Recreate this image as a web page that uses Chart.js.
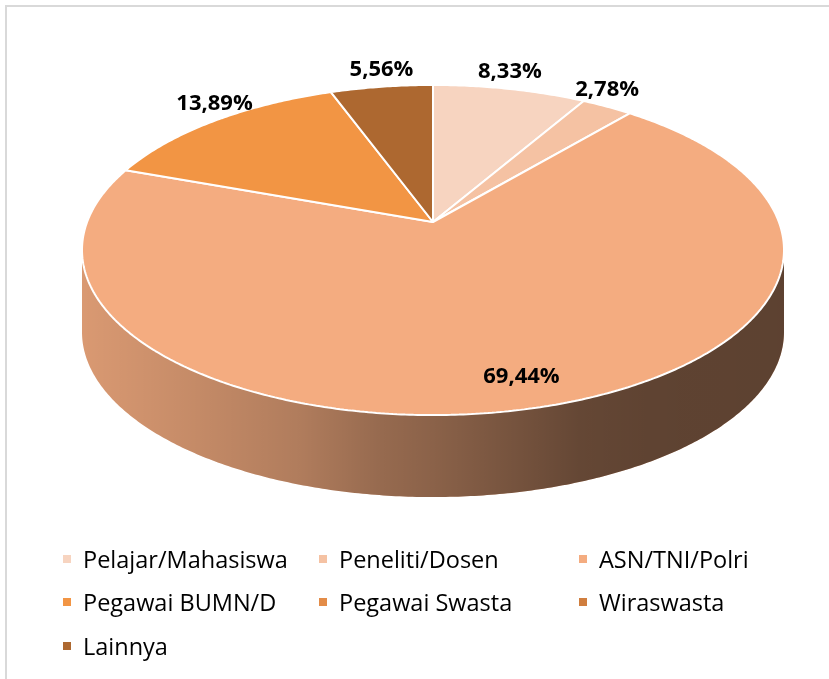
<!DOCTYPE html>
<html>
<head>
<meta charset="utf-8">
<script src="https://cdn.jsdelivr.net/npm/chart.js@4.4.0/dist/chart.umd.min.js"></script>
<style>
    html, body { margin: 0; padding: 0; background: #fff; overflow: hidden; }
    body { width: 829px; height: 679px; position: relative; font-family: "Open Sans", sans-serif; }
    #frame { position: absolute; left: 5px; top: 5px; width: 840px; height: 700px; border: 2px solid #d9d9d9; box-sizing: border-box; }
    #wrap { position: absolute; left: 0; top: 0; width: 829px; height: 679px; }
    #legend { position: absolute; left: 63px; top: 537px; display: grid; grid-template-columns: 256px 260px 220px; grid-auto-rows: 43.5px; }
    .item { display: flex; align-items: center; font-size: 23.5px; color: #000; white-space: nowrap; }
    .box { width: 8px; height: 8px; margin-right: 12px; flex: none; }
</style>
</head>
<body>
<div id="frame"></div>
<div id="wrap"><canvas id="pie"></canvas></div>
<div id="legend"></div>
<script>
let categories = ["Pelajar/Mahasiswa", "Peneliti/Dosen", "ASN/TNI/Polri", "Pegawai BUMN/D", "Pegawai Swasta", "Wiraswasta", "Lainnya"]
let percentages = [8.33, 2.78, 69.44, 13.89, 0, 0, 5.56]
let colors = ["#F7D4C0", "#F5C2A3", "#F4AC80", "#F29544", "#E38C48", "#D07E3E", "#AD6830"]

// tilted view of the flat pie: apex, half sizes, perspective factor, wall height
let view = { cx: 433, cy: 222, w: 345.9, h: 160.3, k: -0.1697, depth: 82 }

// flat pie point -> tilted screen point
function project(arc, px, py) {
    let u = (px - arc.x) / arc.outerRadius
    let v = (py - arc.y) / arc.outerRadius
    let d = 1 + view.k * v
    return [view.cx + view.w * u / d, view.cy + view.h * v / d]
}

// context wrapper: the library's own path calls go through the projection
function lens(ctx, arc) {
    return new Proxy(ctx, {
        get(target, prop) {
            if (prop === "moveTo" || prop === "lineTo") {
                return (x, y) => {
                    let p = project(arc, x, y)
                    target[prop](p[0], p[1])
                }
            }
            if (prop === "arc") {
                return (x, y, r, a0, a1, ccw) => {
                    let span = a1 - a0
                    if (ccw && span > 0) span -= 2 * Math.PI
                    if (!ccw && span < 0) span += 2 * Math.PI
                    let n = Math.max(2, Math.ceil(Math.abs(span) / 0.01))
                    for (let i = 0; i <= n; i++) {
                        let a = a0 + span * i / n
                        let p = project(arc, x + r * Math.cos(a), y + r * Math.sin(a))
                        target.lineTo(p[0], p[1])
                    }
                }
            }
            let value = target[prop]
            return typeof value === "function" ? value.bind(target) : value
        },
        set(target, prop, value) {
            target[prop] = value
            return true
        }
    })
}

const pie3d = {
    id: "pie3d",
    beforeDatasetsDraw(chart) {
        let arcs = chart.getDatasetMeta(0).data
        let ctx = chart.ctx
        let ref = arcs[0]

        // front wall, between the two silhouette points of the rim
        let f0 = Math.asin(-view.k), f1 = Math.PI - f0
        let left = project(ref, ref.x - ref.outerRadius, ref.y)[0]
        let right = project(ref, ref.x + ref.outerRadius, ref.y)[0]
        let shade = ctx.createLinearGradient(left - 5, 0, right + 5, 0)
        shade.addColorStop(0, "rgba(0,0,0,0.11)")
        shade.addColorStop(0.1, "rgba(0,0,0,0.16)")
        shade.addColorStop(0.31, "rgba(0,0,0,0.28)")
        shade.addColorStop(0.42, "rgba(0,0,0,0.38)")
        shade.addColorStop(0.5, "rgba(0,0,0,0.43)")
        shade.addColorStop(0.71, "rgba(0,0,0,0.59)")
        shade.addColorStop(0.81, "rgba(0,0,0,0.61)")
        shade.addColorStop(1, "rgba(0,0,0,0.62)")

        arcs.forEach((arc, i) => {
            let a0 = Math.max(arc.startAngle, f0)
            let a1 = Math.min(arc.endAngle, f1)
            if (a1 <= a0) return
            let top = []
            for (let a = a0; a < a1; a += 0.01) top.push(project(arc, arc.x + arc.outerRadius * Math.cos(a), arc.y + arc.outerRadius * Math.sin(a)))
            top.push(project(arc, arc.x + arc.outerRadius * Math.cos(a1), arc.y + arc.outerRadius * Math.sin(a1)))
            ctx.beginPath()
            top.forEach(p => ctx.lineTo(p[0], p[1]))
            for (let j = top.length - 1; j >= 0; j--) ctx.lineTo(top[j][0], top[j][1] + view.depth)
            ctx.closePath()
            ctx.fillStyle = colors[i]
            ctx.fill()
            ctx.fillStyle = shade
            ctx.fill()
        })

        // top face: the library's arc elements drawn through the lens
        arcs.forEach(arc => {
            if (!arc.hidden) arc.draw(lens(ctx, arc), chart.chartArea)
        })

        // data labels
        ctx.save()
        ctx.font = "bold 22px 'Open Sans'"
        ctx.fillStyle = "#000"
        ctx.textAlign = "center"
        ctx.textBaseline = "middle"
        arcs.forEach((arc, i) => {
            if (percentages[i] <= 0) return
            let mid = (arc.startAngle + arc.endAngle) / 2
            let inside = percentages[i] > 50
            let f = inside ? 0.85 : 1
            let p = project(arc, arc.x + arc.outerRadius * f * Math.cos(mid), arc.y + arc.outerRadius * f * Math.sin(mid))
            let text = percentages[i].toFixed(2).replace(".", ",") + "%"
            ctx.fillText(text, p[0], inside ? p[1] + 2 : p[1] - 17)
        })
        ctx.restore()
        return false
    }
}

let chart = new Chart(document.getElementById("pie").getContext("2d"), {
    type: "pie",
    data: {
        labels: categories,
        datasets: [{
            data: percentages,
            backgroundColor: colors,
            borderColor: "#ffffff",
            borderWidth: 2
        }]
    },
    options: {
        responsive: true,
        maintainAspectRatio: false,
        animation: false,
        events: [],
        plugins: {
            legend: { display: false },
            tooltip: { enabled: false }
        }
    },
    plugins: [pie3d]
})

let legend = document.getElementById("legend")
for (let i = 0; i < categories.length; i++) {
    let item = document.createElement("div")
    item.className = "item"
    let box = document.createElement("span")
    box.className = "box"
    box.style.background = colors[i]
    let label = document.createElement("span")
    label.innerText = categories[i]
    item.appendChild(box)
    item.appendChild(label)
    legend.appendChild(item)
}
</script>
</body>
</html>
